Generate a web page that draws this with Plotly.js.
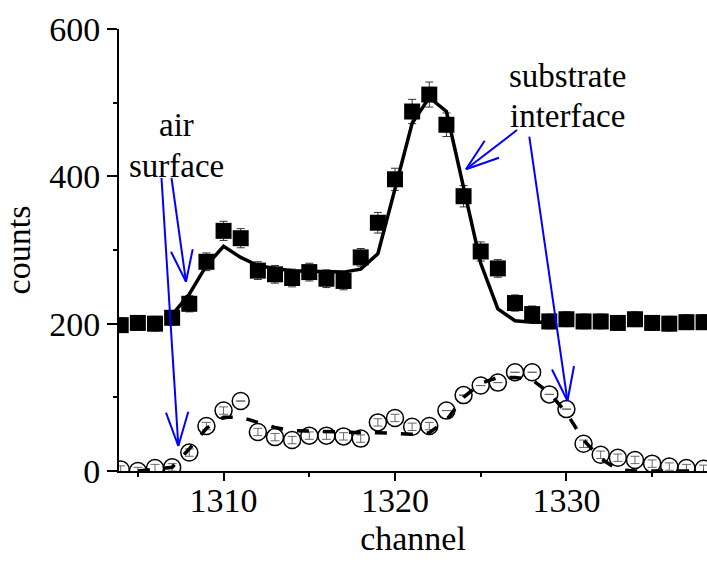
<!DOCTYPE html>
<html><head><meta charset="utf-8">
<script src="https://cdn.plot.ly/plotly-3.0.1.min.js"></script>
<style>html,body{margin:0;padding:0;background:#fff}</style>
</head><body><div id="chart" style="width:707px;height:572px"></div>
<script>
const channels = [1304,1305,1306,1307,1308,1309,1310,1311,1312,1313,1314,1315,1316,1317,1318,1319,1320,1321,1322,1323,1324,1325,1326,1327,1328,1329,1330,1331,1332,1333,1334,1335,1336,1337,1338];
const surfaceCounts = [198,201,200,208,227,284,326,316,272,267,262,270,261,258,290,337,396,488,511,470,373,298,275,228,213,203,206,203,203,201,206,201,200,202,202];
const surfaceErr = [10,10,10,10,11,12,13,13,12,12,12,12,12,12,12,14,15,16.5,17,16,14.5,13,12,11,11,10,10,10,10,10,10,10,10,10,10];
const surfaceFitChannels = [1307,1308,1309,1310,1311,1312,1313,1314,1315,1316,1317,1318,1319,1320,1321,1322,1323,1324,1325,1326,1327,1328,1329];
const surfaceFitCounts = [212,240,279,305,290,279,275,272,271,270,270,274,295,383,472,507,488,385,282,220,204,202,202];
const interfaceCounts = [2,0,4,5,25,61,82,95,53,46,42,48,48,47,44,66,72,60,61,82,103,116,120,134,134,104,84,37,22,18,15,10,6,4,3];
const interfaceErr = [5,5,5,5,5,5,5,0,5,5,5,5,5,5,5,5,5,5,5,0,0,0,0,0,0,0,0,5,5,5,5,5,5,5,5];
const interfaceFitChannels = [1305,1306,1307,1308,1309,1310,1311,1312,1313,1314,1315,1316,1317,1318,1319,1320,1321,1322,1323,1324,1325,1326,1327,1328,1329,1330,1331,1332,1333,1334,1335,1336,1337,1338];
const interfaceFitCounts = [0,2,5,30,58,73,73,66,59,55,54,53,53,52,52,51,50,52,69,100,119,127,127,124,106,79,42,17,2,0,0,0,0,0];
const xTitle = 'channel';
const yTitle = 'counts';
const labels = ['air','surface','substrate','interface'];

const FONT = 'Liberation Serif, Times New Roman, serif';
const M = {l:119, r:0, t:29, b:101};
const W = 707, H = 572;
const PW = W - M.l - M.r, PH = H - M.t - M.b;
const px = x => (x - M.l) / PW;
const py = y => (H - M.b - y) / PH;

const traces = [
  {x: channels, y: surfaceCounts, type:'scatter', mode:'markers',
   marker:{symbol:'square', size:16, color:'#000'},
   error_y:{type:'data', array:surfaceErr, visible:true, color:'#333', thickness:1, width:4},
   showlegend:false, hoverinfo:'skip'},
  {x: channels, y: interfaceCounts, type:'scatter', mode:'markers',
   marker:{symbol:'circle-open', size:17, color:'#000', line:{width:1.5, color:'#000'}},
   error_y:{type:'data', array:interfaceErr, visible:true, color:'#666', thickness:1, width:4.5},
   showlegend:false, hoverinfo:'skip'},
  {x: surfaceFitChannels, y: surfaceFitCounts, type:'scatter', mode:'lines',
   line:{color:'#000', width:3.5}, showlegend:false, hoverinfo:'skip'},
  {x: interfaceFitChannels, y: interfaceFitCounts, type:'scatter', mode:'lines',
   line:{color:'#000', width:3.5, dash:'12px,14px'}, showlegend:false, hoverinfo:'skip'}
];

const arrowSegs = [
  [161.5,178,178.3,446],[166,412.7,178.3,446],[188.3,411.7,178.3,446],
  [171.5,178,186,281.7],[171,251.7,186,281.7],[192.7,249.3,186,281.7],
  [517,130,466,169.3],[484.7,140.7,466,169.3],[499,157.7,466,169.3],
  [529.3,136.7,567.5,401],[552,369.5,567.5,401],[574,366,567.5,401]
];
const shapes = arrowSegs.map(s => ({type:'line', xref:'paper', yref:'paper',
  x0:px(s[0]), y0:py(s[1]), x1:px(s[2]), y1:py(s[3]), line:{color:'#0000ff', width:2}}));

const textPos = [[176.7,125],[176.7,166],[567.5,76],[567.5,116]];
const annotations = labels.map((t,i) => ({text:t, xref:'paper', yref:'paper',
  x:px(textPos[i][0]), y:py(textPos[i][1]), xanchor:'center', yanchor:'middle',
  showarrow:false, font:{family:FONT, size:33, color:'#000'}}));

const axisCommon = {showgrid:false, zeroline:false, showline:true, linecolor:'#000', linewidth:2,
  ticks:'outside', tickcolor:'#000', tickwidth:2, tickfont:{family:FONT, size:34, color:'#000'}};

const layout = {
  width:W, height:H, margin:M, paper_bgcolor:'#fff', plot_bgcolor:'#fff',
  font:{family:FONT, color:'#000'},
  xaxis: Object.assign({}, axisCommon, {range:[1303.9,1338.2], tick0:1310, dtick:10, ticklen:8,
    ticklabelstandoff:-10,
    minor:{dtick:5, ticks:'outside', ticklen:4, tickwidth:2, tickcolor:'#000', showgrid:false},
    title:{text:xTitle, font:{family:FONT, size:34, color:'#000'}, standoff:8}}),
  yaxis: Object.assign({}, axisCommon, {range:[0,600], tick0:0, dtick:200, ticklen:10,
    minor:{dtick:100, ticks:'outside', ticklen:4, tickwidth:2, tickcolor:'#000', showgrid:false},
    title:{text:yTitle, font:{family:FONT, size:34, color:'#000'}, standoff:17}}),
  shapes: shapes, annotations: annotations
};

Plotly.newPlot('chart', traces, layout, {staticPlot:true, displayModeBar:false});
</script></body></html>
